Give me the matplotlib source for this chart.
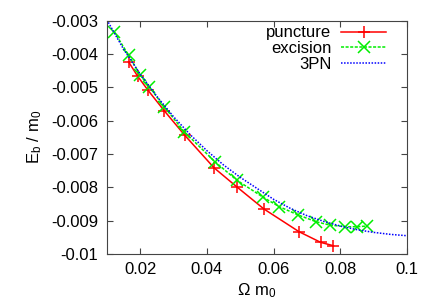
import matplotlib
matplotlib.use("Agg")
from matplotlib import pyplot as plt

# puncture data
punc_omega = [0.0165, 0.0192, 0.0223, 0.0272, 0.0333, 0.0421, 0.0489, 0.0571, 0.0676, 0.0741, 0.0779]
punc_eb = [-0.00423, -0.00466, -0.00508, -0.00570, -0.00643, -0.00741, -0.00798, -0.00865, -0.00933, -0.00965, -0.00975]

# excision data
exc_omega = [0.0122, 0.0165, 0.0200, 0.0227, 0.0272, 0.0332, 0.0424, 0.0489, 0.0569, 0.0617, 0.0674, 0.0727, 0.0768, 0.0815, 0.0850, 0.0878]
exc_eb = [-0.00333, -0.00403, -0.00463, -0.00498, -0.00558, -0.00633, -0.00723, -0.00778, -0.00830, -0.00858, -0.00883, -0.00903, -0.00913, -0.00918, -0.00918, -0.00916]

# 3PN curve
pn_omega = [0.010, 0.015, 0.020, 0.025, 0.030, 0.035, 0.040, 0.045, 0.050, 0.055,
            0.060, 0.065, 0.070, 0.075, 0.080, 0.085, 0.090, 0.095, 0.100]
pn_eb = [-0.00297, -0.00385, -0.00460, -0.00527, -0.00588, -0.00642, -0.00690, -0.00733, -0.00770, -0.00803,
         -0.00836, -0.00863, -0.00885, -0.00902, -0.00916, -0.00927, -0.00935, -0.00941, -0.00945]

xticks = [0.02, 0.04, 0.06, 0.08, 0.1]
xtick_labels = ["0.02", "0.04", "0.06", "0.08", "0.1"]
yticks = [-0.003, -0.004, -0.005, -0.006, -0.007, -0.008, -0.009, -0.01]
ytick_labels = ["-0.003", "-0.004", "-0.005", "-0.006", "-0.007", "-0.008", "-0.009", "-0.01"]

plt.rcParams['font.family'] = ['Liberation Sans', 'DejaVu Sans']
plt.rcParams['mathtext.default'] = 'regular'
plt.rcParams['font.size'] = 12

fig = plt.figure(figsize=(4.36, 3.05), dpi=100)
ax = fig.add_axes([0.245, 0.167, 0.689, 0.765])

ax.plot(punc_omega, punc_eb, color='#ff0000', lw=1.1, marker='+', ms=9, mew=1.1, label='puncture')
ax.plot(exc_omega, exc_eb, color='#00ee00', lw=1.1, ls=(0, (2, 1)), marker='x', ms=8, mew=1.1, label='excision')
ax.plot(pn_omega, pn_eb, color='#0000ff', lw=1.1, ls=(0, (1, 1)), label='3PN')

ax.set_xlim(0.01, 0.1)
ax.set_ylim(-0.01, -0.003)
ax.set_xticks(xticks)
ax.set_xticklabels(xtick_labels)
ax.set_yticks(yticks)
ax.set_yticklabels(ytick_labels)
ax.tick_params(direction='in', length=4, pad=6, top=True, right=True, color='#444444')
for s in ax.spines.values():
    s.set_color('#444444')

ax.set_xlabel(r'$\Omega$ m$_0$', labelpad=3)
ax.set_ylabel(r'E$_b$ / m$_0$', labelpad=5)

ax.legend(loc='upper right', bbox_to_anchor=(0.931, 0.98), frameon=False, markerfirst=False,
          handlelength=2.7, borderaxespad=0, borderpad=0, labelspacing=0.05, handletextpad=0.6)

fig.savefig('out.png', dpi=100)
